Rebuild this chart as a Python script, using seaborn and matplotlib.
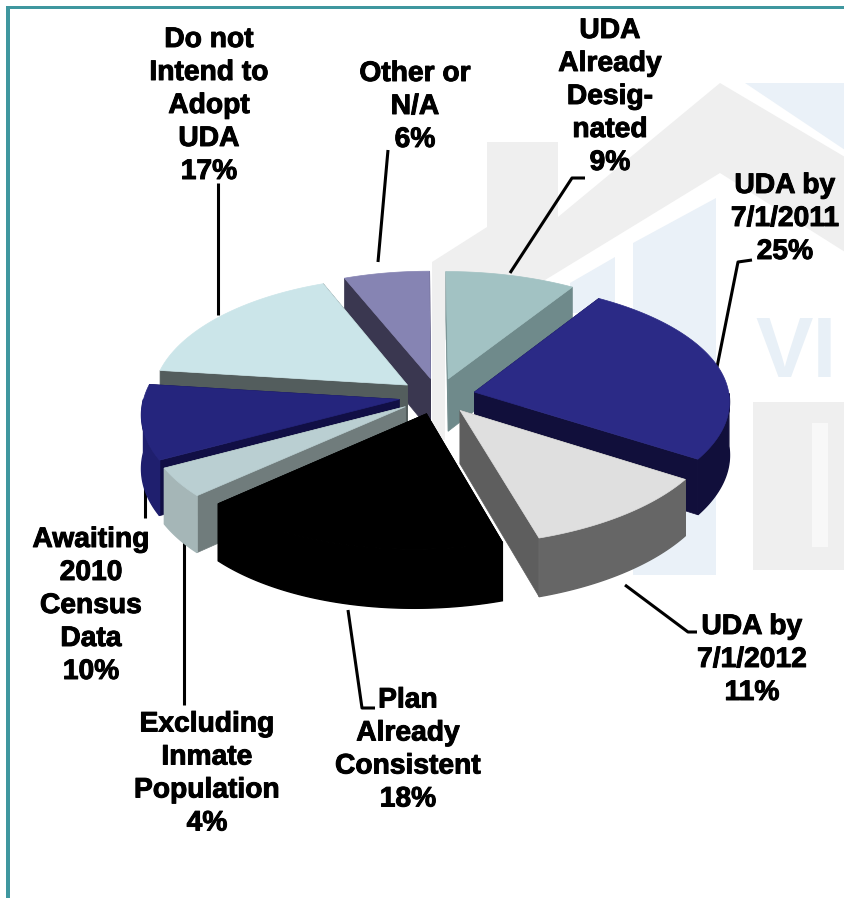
import numpy as np
import matplotlib
matplotlib.use("Agg")
import matplotlib.pyplot as plt
import matplotlib.patheffects as pe
import seaborn as sns

labels = ["UDA\nAlready\nDesig-\nnated", "UDA by\n7/1/2011", "UDA by\n7/1/2012", "Plan\nAlready\nConsistent",
          "Excluding\nInmate\nPopulation", "Awaiting\n2010\nCensus\nData", "Do not\nIntend to\nAdopt\nUDA", "Other or\nN/A"]
values = [9, 25, 11, 18, 4, 10, 17, 6]

top_colors = ["#A2C2C3", "#2B2A86", "#DFDFDF", "#000000", "#BACFD2", "#25257D", "#CBE5E9", "#8684B3"]
wall_colors = ["#6F8A8B", "#110F3B", "#5E5E5E", "#000000", "#707C7C", "#110F45", "#535D5D", "#3A3750"]
rim_colors = ["#6F8A8B", "#110F3B", "#666666", "#000000", "#A5B6B7", "#1F1F6E", "#535D5D", "#3A3750"]

# label centres and leader lines, in pixels
label_pos = [(610, 97), (785, 219), (752, 660), (408, 750), (207, 774), (91, 606), (209, 106), (415, 107)]
leaders = [
    [(585, 178), (572, 178), (510, 273)],
    [(752, 260), (738, 262), (717, 367)],
    [(625, 585), (688, 632), (697, 632)],
    [(348, 610), (362, 708), (375, 708)],
    [(184, 540), (184, 705)],
    [(145, 475), (145, 518)],
    [(218, 183), (218, 315)],
    [(388, 150), (378, 262)],
]

CX, CY = 432, 396
RX, RY = 255, 120
PERSP = 0.09
SKEW = 5
BULGE = 5
DEPTH = 53
EXPLODE = 0.15

sns.set_theme(style="white")
plt.rcParams["font.family"] = ["Liberation Sans", "DejaVu Sans"]

fig = plt.figure(figsize=(8.45, 8.98), dpi=100)
ax = fig.add_axes([0, 0, 1, 1])
ax.set_xlim(0, 845)
ax.set_ylim(898, 0)
ax.axis("off")


def project(X, Y):
    f = 1 / (1 + PERSP * Y)
    return CX + SKEW * Y + BULGE * (1 - Y ** 2) + RX * X * f, CY - RY * Y * f, f


# watermark behind the pie
grey = "#EFEFEF"
blue = "#EAF1F8"
ax.fill([487, 558, 558, 720, 845, 845, 720, 550, 445, 445, 432, 432, 487],
        [142, 142, 217, 83, 157, 252, 173, 277, 340, 440, 440, 262, 227], color=grey, lw=0, zorder=0)
ax.fill([745, 845, 845], [83, 83, 150], color=blue, lw=0, zorder=0)
ax.fill([633, 716, 716, 633], [243, 198, 575, 575], color=blue, lw=0, zorder=0)
ax.fill([570, 615, 615, 570], [283, 257, 313, 313], color=blue, lw=0, zorder=0)
ax.fill([753, 845, 845, 753], [402, 402, 570, 570], color=grey, lw=0, zorder=0)
ax.fill([812, 828, 828, 812], [423, 423, 547, 547], color="#F8F8F8", lw=0, zorder=0)
ax.text(755, 355, "VI", fontsize=62, fontweight="bold", color="#E8F0F7", va="center", zorder=0)

# teal frame, left and top only
ax.fill([6, 10, 10, 6], [6, 6, 898, 898], color="#3F979F", lw=0, zorder=1)
ax.fill([6, 845, 845, 6], [6, 6, 9, 9], color="#3F979F", lw=0, zorder=1)

ends = np.cumsum(values) / np.sum(values) * 2 * np.pi
starts = np.r_[0, ends[:-1]]
mids = (starts + ends) / 2
order = list(np.argsort(-np.cos(mids)))  # back slices first

for i in order:
    ox, oy = EXPLODE * np.sin(mids[i]), EXPLODE * np.cos(mids[i])
    t = np.linspace(starts[i], ends[i], 120)
    rim_x, rim_y, rim_f = project(ox + np.sin(t), oy + np.cos(t))
    ax_, ay_, af_ = project(ox, oy)
    z = 5 + order.index(i)

    # radial walls
    for k in [0, -1]:
        ax.fill([ax_, rim_x[k], rim_x[k], ax_],
                [ay_, rim_y[k], rim_y[k] + DEPTH * rim_f[k], ay_ + DEPTH * af_],
                color=wall_colors[i], lw=0.5, zorder=z)
    # outer wall, only the part that faces the viewer
    front = np.cos(t) < 0
    if front.any():
        fx, fy, ff = rim_x[front], rim_y[front], rim_f[front]
        ax.fill(np.r_[fx, fx[::-1]], np.r_[fy, (fy + DEPTH * ff)[::-1]],
                color=rim_colors[i], lw=1.0, zorder=z)
    # top face
    ax.fill(np.r_[ax_, rim_x], np.r_[ay_, rim_y], color=top_colors[i], lw=0.5, zorder=z + 0.5)

for pts in leaders:
    xs, ys = zip(*pts)
    ax.plot(xs, ys, color="black", lw=2.2, solid_capstyle="butt", zorder=3)

for lab, val, (x, y) in zip(labels, values, label_pos):
    ax.text(x, y, f"{lab}\n{val}%", ha="center", va="center", fontsize=20.3, fontweight="bold",
            color="black", linespacing=1.35, zorder=20,
            path_effects=[pe.withStroke(linewidth=0.7, foreground="black")])

fig.savefig("out.png", dpi=100)
